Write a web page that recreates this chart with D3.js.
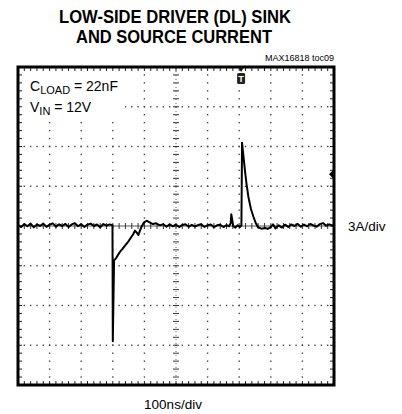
<!DOCTYPE html>
<html>
<head>
<meta charset="utf-8">
<script src="https://cdn.jsdelivr.net/npm/d3@7"></script>
<style>
  body { margin: 0; background: #fff; }
  text { font-family: "Liberation Sans", Arial, sans-serif; fill: #000; }
</style>
</head>
<body>
<svg id="scope" width="402" height="414"></svg>
<script>
// trace pieces: [time ns, current A]
const preEdge = [[0,0.08],[10,-0.08],[20,0.15],[30,-0.02],[40,0.18],[50,-0.1],[60,0.12],[70,0.0],[80,0.18],[90,-0.06],
  [100,0.1],[110,0.2],[120,-0.05],[130,0.13],[140,0.0],[150,0.16],[160,-0.08],[170,0.12],[180,0.22],[190,-0.02],
  [200,0.14],[210,-0.07],[220,0.1],[230,0.18],[240,0.0],[250,0.12],[260,-0.09],[270,0.15],[280,0.02],[290,0.12],[299,0.06]];
const sinkPulse = [[300,-8.7],[304,-2.6],[310,-2.44],[316,-2.2],[323,-1.94],[330,-1.75],[340,-1.45],[349,-1.18],
  [358,-0.85],[365,-0.6],[370,-0.35],[376,-0.5],[381,-0.68],[386,-0.35],[391,-0.05],[398,0.25],[407,0.4],
  [415,0.3],[427,0.15],[437,0.2],[449,0.05]];
const midFlat = [[460,0.14],[470,-0.06],[480,0.12],[490,-0.02],[500,0.1],[510,-0.08],[520,0.08],[530,0.13],[540,-0.06],
  [550,0.09],[560,-0.04],[570,0.07],[580,0.13],[590,-0.07],[600,0.06],[610,0.11],[620,-0.09],[630,0.05],
  [640,0.1],[650,-0.08],[660,0.07],[668,-0.02]];
const sourcePulse = [[673,0.2],[675,0.88],[678,0.45],[681,0.0],[688,-0.12],[695,0.06],[702,-0.08],[707,0.05],
  [709,6.29],[712,5.6],[718,4.23],[723,3.2],[729,2.21],[737,1.3],[745,0.7],[752,0.25],[759,-0.08],[770,-0.2],
  [782,-0.15],[790,-0.22],[800,-0.08],[807,0.12],[815,-0.18]];
const tail = [[825,0.05],[835,-0.12],[845,0.1],[855,-0.07],[865,0.12],[875,0.0],[885,0.16],[895,-0.06],[905,0.11],
  [915,-0.02],[925,0.15],[935,0.04],[945,-0.05],[955,0.14],[965,0.22],[975,0.02],[985,0.12],[995,0.04],[1000,0.08]];

const timeDomain = [0, 1000];     // 100ns/div, 10 div
const ampDomain = [-12, 12];      // 3A/div, 8 div
const xDivs = [100, 200, 300, 400, 600, 700, 800, 900];
const yDivs = [-9, -6, -3, 3, 6, 9];
const triggerT = 706;
const triggerLevel = 3.9;

const titleLines = ['LOW-SIDE DRIVER (DL) SINK', 'AND SOURCE CURRENT'];

const svg = d3.select('#scope');

const x = d3.scaleLinear().domain(timeDomain).range([18, 334]);
const y = d3.scaleLinear().domain(ampDomain).range([385, 67]);

const xMinor = d3.range(0, 1000.01, 20);
const yMinor = d3.range(-12, 12.01, 0.6);

const grid = svg.append('g').attr('class', 'grid');

// dotted graticule
xDivs.forEach((t) => {
  grid.selectAll(null)
      .data(yMinor.slice(1, -1))
    .enter().append('rect')
      .attr('x', x(t) - 0.7)
      .attr('y', d => y(d) - 0.7)
      .attr('width', 1.4)
      .attr('height', 1.4)
      .attr('fill', '#444');
});
yDivs.forEach((a) => {
  grid.selectAll(null)
      .data(xMinor.slice(1, -1))
    .enter().append('rect')
      .attr('x', d => x(d) - 0.7)
      .attr('y', y(a) - 0.7)
      .attr('width', 1.4)
      .attr('height', 1.4)
      .attr('fill', '#444');
});

// center cross with ticks
grid.append('line')
    .attr('x1', x(0)).attr('x2', x(1000))
    .attr('y1', y(0)).attr('y2', y(0))
    .attr('stroke', '#555').attr('stroke-width', 1);
grid.selectAll('.hx')
    .data(xMinor)
  .enter().append('line')
    .attr('x1', d => x(d)).attr('x2', d => x(d))
    .attr('y1', y(0) - 3).attr('y2', y(0) + 3)
    .attr('stroke', '#333').attr('stroke-width', 1);
grid.append('line')
    .attr('x1', x(500)).attr('x2', x(500))
    .attr('y1', y(12)).attr('y2', y(-12))
    .attr('stroke', '#666').attr('stroke-width', 1)
    .attr('stroke-dasharray', '1,3');
grid.selectAll('.vy')
    .data(yMinor)
  .enter().append('line')
    .attr('x1', x(500) - 3).attr('x2', x(500) + 3)
    .attr('y1', d => y(d)).attr('y2', d => y(d))
    .attr('stroke', '#333').attr('stroke-width', 1);

// white patch behind the conditions text
svg.append('rect')
    .attr('x', 20).attr('y', 70)
    .attr('width', 105).attr('height', 49)
    .attr('fill', '#fff');

// border ticks
const border = svg.append('g');
border.selectAll('.bt')
    .data(xMinor)
  .enter().append('line')
    .attr('x1', d => x(d)).attr('x2', d => x(d))
    .attr('y1', y(12)).attr('y2', y(12) + 4)
    .attr('stroke', '#222');
border.selectAll('.bb')
    .data(xMinor)
  .enter().append('line')
    .attr('x1', d => x(d)).attr('x2', d => x(d))
    .attr('y1', y(-12)).attr('y2', y(-12) - 4)
    .attr('stroke', '#222');
border.selectAll('.bl')
    .data(yMinor)
  .enter().append('line')
    .attr('x1', x(0)).attr('x2', x(0) + 4)
    .attr('y1', d => y(d)).attr('y2', d => y(d))
    .attr('stroke', '#222');
border.selectAll('.br')
    .data(yMinor)
  .enter().append('line')
    .attr('x1', x(1000)).attr('x2', x(1000) - 4)
    .attr('y1', d => y(d)).attr('y2', d => y(d))
    .attr('stroke', '#222');

// the trace
const trace = preEdge.concat(sinkPulse, midFlat, sourcePulse, tail);
const line = d3.line()
    .x(d => x(d[0]))
    .y(d => y(d[1]));
svg.append('path')
    .datum(trace)
    .attr('d', line)
    .attr('fill', 'none')
    .attr('stroke', '#000')
    .attr('stroke-width', 2)
    .attr('stroke-linejoin', 'round');

// frame
svg.append('rect')
    .attr('x', x(0)).attr('y', y(12))
    .attr('width', x(1000) - x(0))
    .attr('height', y(-12) - y(12))
    .attr('fill', 'none')
    .attr('stroke', '#000')
    .attr('stroke-width', 3);

// trigger markers
const tx = x(triggerT);
svg.append('path')
    .attr('d', `M${tx - 3},${y(12)} L${tx + 3},${y(12)} L${tx},${y(12) + 5} Z`)
    .attr('fill', '#111');
svg.append('rect')
    .attr('x', tx - 4).attr('y', y(12) + 6)
    .attr('width', 8).attr('height', 11).attr('rx', 1.5)
    .attr('fill', '#222');
svg.append('text')
    .attr('x', tx).attr('y', y(12) + 15)
    .attr('text-anchor', 'middle')
    .style('font-size', '9px').style('font-weight', 'bold')
    .style('fill', '#fff')
    .text('T');
const ty = y(triggerLevel);
svg.append('path')
    .attr('d', `M${x(1000)},${ty - 5} L${x(1000) - 5},${ty} L${x(1000)},${ty + 5} Z`)
    .attr('fill', '#000');

// titles
svg.append('text')
    .attr('x', 175).attr('y', 23)
    .attr('text-anchor', 'middle')
    .attr('textLength', 232).attr('lengthAdjust', 'spacingAndGlyphs')
    .style('font-size', '17.5px').style('font-weight', 'bold')
    .text(titleLines[0]);
svg.append('text')
    .attr('x', 174).attr('y', 43)
    .attr('text-anchor', 'middle')
    .attr('textLength', 196).attr('lengthAdjust', 'spacingAndGlyphs')
    .style('font-size', '17.5px').style('font-weight', 'bold')
    .text(titleLines[1]);
svg.append('text')
    .attr('x', 334).attr('y', 61)
    .attr('text-anchor', 'end')
    .style('font-size', '9px')
    .text('MAX16818 toc09');

// conditions
const c1 = svg.append('text').attr('x', 30).attr('y', 91).style('font-size', '14px');
c1.append('tspan').text('C');
c1.append('tspan').attr('dy', 3).style('font-size', '11px').text('LOAD');
c1.append('tspan').attr('dy', -3).text(' = 22nF');
const c2 = svg.append('text').attr('x', 30).attr('y', 112).style('font-size', '14px');
c2.append('tspan').text('V');
c2.append('tspan').attr('dy', 3).style('font-size', '11px').text('IN');
c2.append('tspan').attr('dy', -3).text(' = 12V');

// scale labels
svg.append('text')
    .attr('x', 348).attr('y', 231)
    .style('font-size', '13.5px')
    .text('3A/div');
svg.append('text')
    .attr('x', 173).attr('y', 409)
    .attr('text-anchor', 'middle')
    .style('font-size', '13.5px')
    .text('100ns/div');
</script>
</body>
</html>
